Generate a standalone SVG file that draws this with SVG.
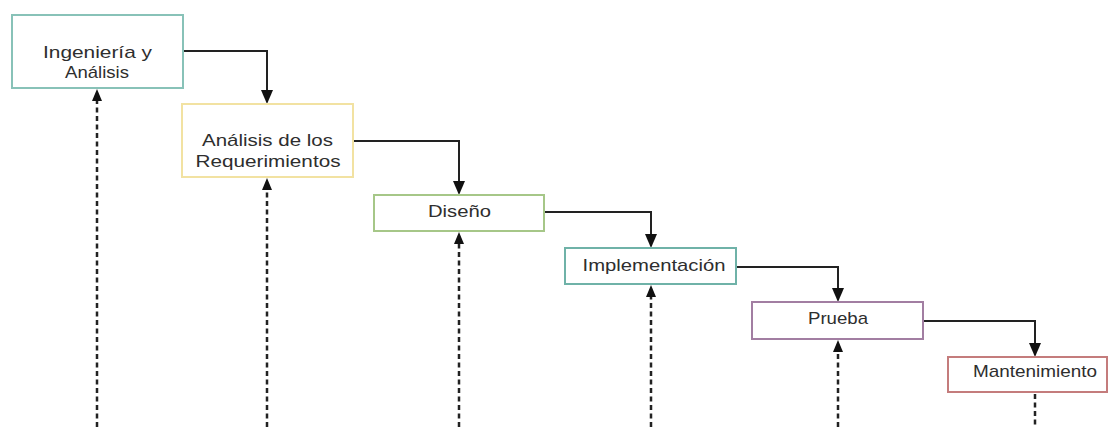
<svg xmlns="http://www.w3.org/2000/svg" width="1111" height="427" viewBox="0 0 1111 427">
<style>
.box{fill:#fff;stroke-width:2}
.t{font-family:"Liberation Sans",Arial,sans-serif;font-size:17px;fill:#2e2e2e;text-anchor:middle}
.c{fill:none;stroke:#222;stroke-width:2}
.d{fill:none;stroke:#222;stroke-width:2.5;stroke-dasharray:5 3.5}
</style>
<defs>
<marker id="ah" viewBox="0 0 14 12" refX="0" refY="6" markerWidth="14" markerHeight="12" markerUnits="userSpaceOnUse" orient="auto">
<path d="M0,0 L14,6 L0,12 z" fill="#111"/>
</marker>
<marker id="ahd" viewBox="0 0 12 10" refX="0" refY="5" markerWidth="12" markerHeight="10" markerUnits="userSpaceOnUse" orient="auto">
<path d="M0,0 L12,5 L0,10 z" fill="#111"/>
</marker>
</defs>
<rect width="1111" height="427" fill="#fff"/>
<g id="connectors">
<path class="c" d="M183,51 H267 V90" marker-end="url(#ah)"/>
<path class="c" d="M353,141 H459 V181" marker-end="url(#ah)"/>
<path class="c" d="M544,212 H651 V234" marker-end="url(#ah)"/>
<path class="c" d="M736,267 H838 V288" marker-end="url(#ah)"/>
<path class="c" d="M923,321 H1035 V343" marker-end="url(#ah)"/>
<path class="d" d="M97,427 V101" marker-end="url(#ahd)"/>
<path class="d" d="M267,427 V190" marker-end="url(#ahd)"/>
<path class="d" d="M459,427 V244" marker-end="url(#ahd)"/>
<path class="d" d="M651,427 V297" marker-end="url(#ahd)"/>
<path class="d" d="M838,427 V352" marker-end="url(#ahd)"/>
<path class="d" d="M1035,394 V427"/>
</g>
<g id="n1">
<rect class="box" x="12" y="15" width="171" height="73" stroke="#88c2b8"/>
<text class="t" x="97.5" y="57.5" textLength="109" lengthAdjust="spacingAndGlyphs">Ingeniería y</text>
<text class="t" x="97" y="78" textLength="64" lengthAdjust="spacingAndGlyphs">Análisis</text>
</g>
<g id="n2">
<rect class="box" x="182" y="104" width="171" height="73" stroke="#f2e2a2"/>
<text class="t" x="267.5" y="146" textLength="131" lengthAdjust="spacingAndGlyphs">Análisis de los</text>
<text class="t" x="268" y="167" textLength="145" lengthAdjust="spacingAndGlyphs">Requerimientos</text>
</g>
<g id="n3">
<rect class="box" x="374" y="195" width="170" height="36" stroke="#a6c788"/>
<text class="t" x="459.5" y="217" textLength="63" lengthAdjust="spacingAndGlyphs">Diseño</text>
</g>
<g id="n4">
<rect class="box" x="565" y="248" width="171" height="36" stroke="#6fb2a8"/>
<text class="t" x="654" y="271" textLength="143" lengthAdjust="spacingAndGlyphs">Implementación</text>
</g>
<g id="n5">
<rect class="box" x="752" y="302" width="171" height="37" stroke="#a27ea2"/>
<text class="t" x="838" y="323.5" textLength="60" lengthAdjust="spacingAndGlyphs">Prueba</text>
</g>
<g id="n6">
<rect class="box" x="948" y="357" width="159" height="35" stroke="#c47c7c"/>
<text class="t" x="1035" y="377" textLength="124" lengthAdjust="spacingAndGlyphs">Mantenimiento</text>
</g>
</svg>
